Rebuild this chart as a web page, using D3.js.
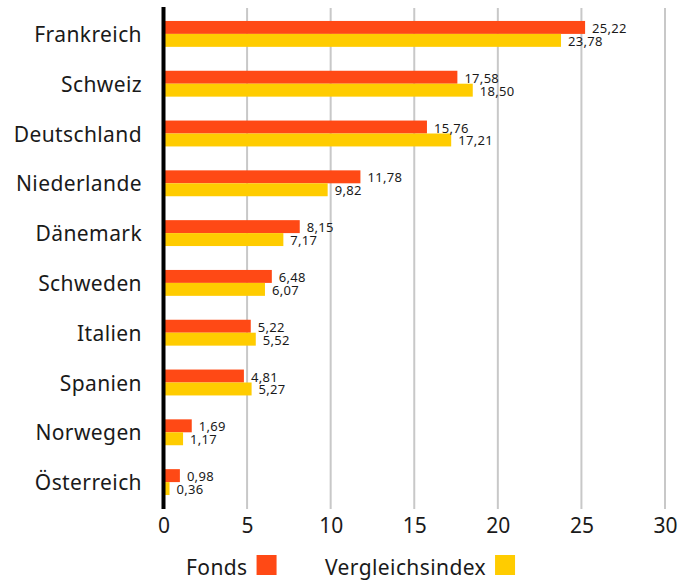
<!DOCTYPE html>
<meta charset="utf-8">
<style>
body { margin: 0; background: #fff; }
text { font-family: "Noto Sans", sans-serif; fill: #1a1a1a; }
</style>
<svg width="695" height="581"></svg>
<script src="https://cdn.jsdelivr.net/npm/d3@7"></script>
<script>

var countries = ["Frankreich", "Schweiz", "Deutschland", "Niederlande", "Dänemark", "Schweden", "Italien", "Spanien", "Norwegen", "Österreich"]
var fonds = [25.22, 17.58, 15.76, 11.78, 8.15, 6.48, 5.22, 4.81, 1.69, 0.98]
var index = [23.78, 18.50, 17.21, 9.82, 7.17, 6.07, 5.52, 5.27, 1.17, 0.36]
var seriesNames = ["Fonds", "Vergleichsindex"]
var colors = ["#ff4915", "#ffcc00"]
var ticks = [0, 5, 10, 15, 20, 25, 30]

var svg = d3.select("svg")

var x = d3.scaleLinear().domain([0, 30]).range([163.5, 665])
var y = d3.scaleBand().domain(countries).range([9, 507]).paddingInner(0.48).paddingOuter(0.24)
var sub = d3.scaleBand().domain(seriesNames).range([0, y.bandwidth()])

var fmt = function(v) { return d3.format(".2f")(v).replace(".", ",") }

// grid
svg.append("g").selectAll("line")
  .data(ticks.slice(1))
  .enter().append("line")
    .attr("x1", function(d) { return x(d) })
    .attr("x2", function(d) { return x(d) })
    .attr("y1", 8)
    .attr("y2", 509)
    .attr("stroke", "#c8c8c8")
    .attr("stroke-width", 2)

var rows = countries.map(function(c, i) { return { name: c, vals: [fonds[i], index[i]] } })

var g = svg.append("g").selectAll("g")
  .data(rows)
  .enter().append("g")
    .attr("transform", function(d) { return "translate(0," + y(d.name) + ")" })

g.selectAll("rect")
  .data(function(d) { return d.vals.map(function(v, k) { return { s: seriesNames[k], v: v, k: k } }) })
  .enter().append("rect")
    .attr("x", x(0))
    .attr("y", function(d) { return sub(d.s) })
    .attr("width", function(d) { return x(d.v) - x(0) })
    .attr("height", sub.bandwidth())
    .attr("fill", function(d) { return colors[d.k] })

g.selectAll("text.val")
  .data(function(d) { return d.vals.map(function(v, k) { return { s: seriesNames[k], v: v } }) })
  .enter().append("text")
    .attr("class", "val")
    .attr("x", function(d) { return x(d.v) + 7 })
    .attr("y", function(d) { return sub(d.s) + sub.bandwidth() - 1 })
    .attr("font-size", 13)
    .attr("letter-spacing", 0.3)
    .text(function(d) { return fmt(d.v) })

// category labels
svg.append("g").selectAll("text")
  .data(countries)
  .enter().append("text")
    .attr("x", 142)
    .attr("y", function(d) { return y(d) + y.bandwidth() / 2 + 8 })
    .attr("text-anchor", "end")
    .attr("font-size", 21)
    .attr("letter-spacing", 0.4)
    .text(function(d) { return d })

// x axis
var xAxis = svg.append("g")
  .attr("transform", "translate(0,509)")
  .call(d3.axisBottom(x).tickValues(ticks).tickSize(0).tickPadding(9))
xAxis.select(".domain").remove()
xAxis.selectAll("text")
  .attr("font-size", 21)
  .attr("font-family", "Noto Sans, sans-serif")
  .attr("fill", "#1a1a1a")

// zero line
svg.append("line")
  .attr("x1", x(0)).attr("x2", x(0))
  .attr("y1", 7).attr("y2", 509)
  .attr("stroke", "#000")
  .attr("stroke-width", 4)

// legend
var legendPos = [186, 325]
var leg = svg.append("g").selectAll("g")
  .data(seriesNames)
  .enter().append("g")
    .attr("transform", function(d, i) { return "translate(" + legendPos[i] + ",575)" })

leg.append("text")
  .attr("font-size", 21)
  .attr("letter-spacing", 0.4)
  .text(function(d) { return d })
  .each(function(d, i) {
    var w = this.getComputedTextLength()
    d3.select(this.parentNode).append("rect")
      .attr("x", w + 9)
      .attr("y", -20)
      .attr("width", 20)
      .attr("height", 20)
      .attr("fill", colors[i])
  })
</script>
